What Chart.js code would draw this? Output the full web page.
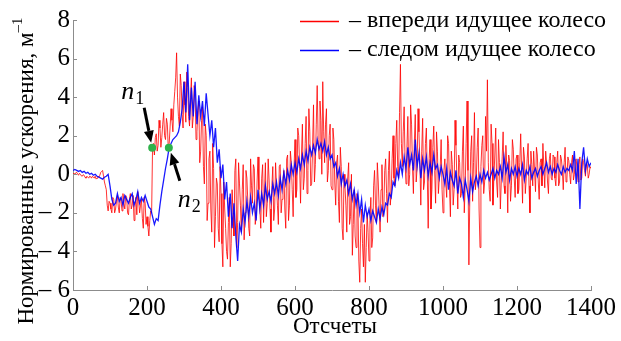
<!DOCTYPE html>
<html>
<head>
<meta charset="utf-8">
<script src="https://cdn.jsdelivr.net/npm/chart.js@4"></script>
<style>
html,body{margin:0;padding:0;background:#fff;overflow:hidden;}
#wrap{width:621px;height:341px;position:relative;}
#fontwarm{position:absolute;left:0;top:0;font-family:'Liberation Serif';font-size:20px;color:rgba(0,0,0,0);pointer-events:none;}
</style>
</head>
<body>
<div id="wrap"><canvas id="c" width="621" height="341"></canvas><div id="fontwarm">Нн 0123 <i>n</i></div></div>
<script>
// Sample spacing of the read-off values (Отсчеты)
const sampleStep = 5;

// Leading wheel (впереди идущее колесо), values at samples 0, 5, 10 ... 1400
const redValues = [
  0.05, 0.0, 0.1, -0.05, 0.0, -0.1, -0.05, -0.2, -0.15, -0.1,
  -0.2, -0.15, -0.1, -0.2, -0.15, 0.1, 0.2, -0.4, -0.8, -1.9,
  -1.5, -2.0, -1.3, -1.8, -1.1, -2.0, -1.4, -1.0, -1.8, -1.2,
  -2.1, -1.0, -1.6, -2.4, -1.2, -0.9, -2.0, -1.3, -2.8, -1.5,
  -2.2, -3.2, -1.9, 1.4, 1.0, 2.1, 1.5, 2.4, 1.9, 3.2,
  1.8, 2.6, 1.6, 3.4, 2.2, 4.3, 6.3, 3.0, 5.2, 3.1,
  4.8, 2.7, 4.5, 2.5, 5.0, 3.0, 4.2, 2.2, 3.8, 1.2,
  3.5, -0.5, 2.0, -1.5, 1.2, -3.0, 0.3, -2.2, -0.5, -3.5,
  -1.0, -4.8, -1.8, -4.0, -2.5, -4.8, -0.8, -3.2, 0.8, -2.5,
  -0.5, -3.0, 0.5, -2.0, -0.2, -2.8, 0.8, -1.5, 0.3, -2.2,
  0.9, -1.8, -0.2, -2.5, 0.6, -1.5, -0.3, -3.0, 0.4, -1.8,
  -0.6, -2.6, 0.5, -1.3, 0.2, -2.8, 1.0, -1.6, 0.6, -2.2,
  1.8, -0.8, 2.0, -1.5, 2.6, -0.2, 3.0, 0.2, 2.2, -0.5,
  3.6, 0.5, 4.6, 0.8, 2.8, 4.8, 0.6, 3.4, 0.2, 2.6,
  -0.8, 1.8, -1.6, 1.0, -2.5, 0.4, -3.4, -0.6, -3.0, 0.6,
  -2.2, -4.2, -0.8, -3.8, -1.5, -5.6, -1.8, -4.8, -5.6, -2.0,
  -4.5, -1.2, -3.3, 0.2, -2.5, -0.4, -3.0, 0.5, -1.8, 0.8,
  -2.5, 1.2, -1.0, 2.0, -0.6, 2.8, -0.2, 5.7, 0.4, 3.5,
  -0.5, 3.0, 0.0, 2.6, -1.0, 3.1, 0.3, 2.2, -1.6, 2.9,
  -0.4, 2.4, -2.8, 1.8, -0.8, 2.5, -1.5, 1.2, -0.2, 1.8,
  -2.0, 0.8, -1.2, 1.6, -2.2, 0.5, -0.8, 1.5, -1.8, 0.6,
  -1.0, 2.5, -0.6, 3.8, -4.7, 1.2, -1.4, 3.2, -0.2, 2.4,
  -3.8, 1.5, -1.0, 3.0, 4.9, -0.8, 2.6, -1.6, 1.0, -0.4,
  1.8, -1.8, 0.9, -0.6, 1.5, -2.0, 0.7, -0.6, 1.3, -1.2,
  1.0, -0.8, 2.1, -1.5, 0.9, -0.2, 1.6, -2.0, 0.5, 1.2,
  -0.9, 1.0, -1.3, 0.8, 1.6, -0.7, 0.6, -1.0, 1.1, -0.3,
  0.9, -0.6, 1.2, -0.4, 0.8, -0.8, 1.4, -0.2, 0.7, -0.5,
  1.0, 0.0, 0.8, -0.4, 0.9, -0.2, 0.6, -0.1, 0.5, 0.0,
  0.3
];

// Leading wheel, values in between, at samples 2.5, 7.5 ... 1397.5
const redMidValues = [
  0.0, 0.08, 0.02, 0.05, -0.08, -0.02, -0.15, -0.1, -0.2, -0.12,
  -0.1, -0.2, -0.25, -0.1, -0.05, 0.15, -0.1, -0.6, -1.6, -1.4,
  -1.8, -1.2, -2.0, -1.4, -1.7, -1.2, -1.9, -1.5, -1.1, -2.0,
  -1.3, -1.8, -1.1, -1.7, -2.1, -1.4, -1.6, -2.3, -1.2, -2.6,
  -2.7, -2.4, -2.0, 1.6, 1.9, 1.2, 2.8, 1.4, 2.6, 2.0,
  2.9, 1.3, 2.5, 2.8, 3.6, 5.0, 4.0, 2.5, 4.6, 2.4,
  3.6, 5.3, 3.0, 4.0, 2.4, 4.6, 1.8, 3.3, 0.6, 2.8,
  0.4, 2.6, -2.4, 0.8, -1.8, 1.6, -3.8, -0.2, -2.8, 0.4,
  -3.6, -0.4, -2.8, -4.4, -1.2, -3.6, -2.0, 0.2, -3.8, 0.6,
  -1.6, -0.8, -3.4, 0.2, -1.4, -3.2, -0.6, 0.5, -2.6, -0.4,
  -0.8, -2.8, 0.5, -1.0, -2.2, 0.8, -1.8, -0.6, -2.4, 0.6,
  -1.6, 0.4, -2.0, -0.2, -1.8, 0.8, -2.4, 1.2, -0.8, 0.4,
  -1.2, 2.4, 0.4, 1.0, -0.8, 1.6, -1.0, 3.4, -0.6, 1.4,
  -0.4, 2.6, 1.8, 3.8, 0.0, 2.2, 2.6, -0.4, 2.0, -0.6,
  2.4, -0.4, 0.6, -1.4, 1.4, -2.8, 0.0, -1.6, -0.2, -2.6,
  0.0, -2.6, -3.2, -1.0, -4.5, -2.8, -3.6, -2.6, -3.8, -3.0,
  -2.4, -3.8, -0.6, -1.6, 0.6, -1.8, -0.8, -2.2, 0.2, -1.0,
  0.2, -1.6, 0.8, -0.2, 1.6, 0.4, 3.2, 1.6, 2.2, 0.6,
  1.4, -0.6, 3.6, 0.4, 1.6, -0.4, 3.4, 0.6, 1.2, -0.8,
  1.6, 0.0, 0.8, -1.8, 1.4, 0.2, 2.2, -1.0, 0.4, -0.8,
  0.2, -0.4, 2.0, -0.6, 1.2, -1.6, 2.8, -0.2, 1.0, -1.2,
  1.2, -2.0, 1.6, 0.2, -1.2, 2.0, 0.6, -0.8, 1.4, -1.8,
  0.4, 2.0, -0.4, 1.2, 0.6, -1.4, 1.6, -0.2, 2.4, -1.2,
  0.6, -0.4, 2.2, -1.0, 0.4, 1.0, -1.4, 1.8, -0.2, 0.8,
  -1.0, 0.6, 0.2, 1.4, -1.0, 0.8, -0.6, 1.2, -0.6, 0.2,
  1.4, -0.4, 0.6, -0.6, 0.4, 1.2, -0.4, 0.8, -0.2, 1.0,
  -0.2, 0.6, -0.6, 1.0, 0.2, 0.6, -0.4, 0.9, 0.0, 0.6,
  -0.3, 0.7, 0.2, 0.5, -0.3, 0.8, 0.2, 0.6, -0.2, 0.4
];

// Trailing wheel (следом идущее колесо), values at samples 0, 5, 10 ... 1400
const blueValues = [
  0.2, 0.25, 0.2, 0.15, 0.2, 0.1, 0.15, 0.05, 0.1, 0.0,
  0.05, -0.05, 0.0, -0.1, -0.15, -0.2, -0.25, -0.15, -0.1, 0.0,
  -0.6, -1.3, -1.6, -1.5, -1.0, -1.4, -1.2, -1.6, -1.1, -1.3,
  -1.5, -1.2, -1.0, -1.6, -1.3, -0.9, -1.5, -1.2, -1.4, -1.1,
  -1.4, -1.7, -1.8, -2.2, -2.6, -2.3, -2.4, -1.6, -0.9, -0.3,
  0.3, 0.8, 1.4, 1.6, 1.8, 1.9, 2.0, 2.2, 2.7, 3.4,
  4.8, 3.2, 5.7, 2.8, 4.5, 3.0, 4.8, 2.6, 4.1, 3.0,
  3.8, 2.5, 4.2, 3.1, 2.0, 2.8, 1.4, 2.4, 0.6, 1.3,
  -0.2, 0.5, -1.3, -0.4, -2.2, -1.0, -2.8, -1.5, -3.2, -4.5,
  -2.6, -3.0, -1.8, -2.5, -1.4, -2.2, -1.2, -2.0, -1.5, -2.4,
  -0.8, -1.8, -1.0, -1.6, -0.6, -1.3, -0.9, -1.4, -0.5, -1.0,
  -0.4, -1.1, -0.2, -0.8, 0.1, -0.5, 0.2, -0.3, 0.5, 0.0,
  0.6, 0.1, 0.8, 0.3, 1.0, 0.5, 1.2, 0.7, 1.4, 1.0,
  1.5, 1.1, 1.8, 1.3, 1.6, 1.2, 1.7, 1.0, 1.4, 0.8,
  1.0, 0.4, 0.6, -0.1, 0.3, -0.5, 0.0, -0.6, -0.3, -1.0,
  -0.5, -1.3, -0.8, -1.6, -1.0, -2.0, -1.3, -2.5, -1.6, -2.2,
  -1.8, -2.4, -1.9, -2.2, -2.5, -1.8, -2.3, -1.7, -2.1, -1.5,
  -1.6, -1.0, -1.2, -0.4, -0.6, 0.2, -0.2, 0.6, 0.0, 0.9,
  0.3, 1.4, 0.5, 1.0, 0.2, 1.8, 0.4, 1.1, -0.2, 0.8,
  0.2, 0.9, -0.1, 0.6, 0.1, 1.0, 0.3, 0.5, -0.2, 0.4,
  0.0, -0.5, 0.3, -0.8, 0.1, -0.3, -0.6, 0.2, -1.0, -0.2,
  -0.5, -1.2, -0.3, -0.8, -1.4, -0.2, -0.9, -0.4, -0.1, -0.6,
  0.0, -0.4, 0.2, -0.2, 0.1, -0.3, 0.0, 0.3, -0.2, 0.2,
  0.0, 0.4, -0.2, 0.9, 0.1, 0.5, -0.3, 0.3, 0.0, 0.4,
  -0.1, 0.3, 0.0, 0.5, -0.3, 0.2, 0.0, 0.4, -0.2, 0.1,
  0.3, -0.1, 0.2, 0.4, 0.0, 0.3, 0.6, 0.1, 0.4, 0.0,
  0.3, 0.1, 0.5, 0.2, 0.0, 0.4, 0.1, 0.3, 0.2, 0.5,
  0.2, 1.2, -0.5, 0.8, -1.8, 0.6, 1.4, 0.2, 0.8, 0.4,
  0.6
];

// Marked points n1, n2
const markerLabels = ['1', '2'];
const markerX = [214, 259];
const markerY = [1.38, 1.38];

// Tick labels
const xTickValues = [0, 200, 400, 600, 800, 1000, 1200, 1400];
const xTickLabels = ['0', '200', '400', '600', '800', '1000', '1200', '1400'];
const yTickValues = [-6, -4, -2, 0, 2, 4, 6, 8];
const yTickLabels = ['– 6', '– 4', '– 2', '0', '2', '4', '6', '8'];

const seriesLabels = ['– впереди идущее колесо', '– следом идущее колесо'];
const seriesColors = ['rgba(255,0,0,0.8)', 'rgba(0,0,255,0.9)'];
const legendColors = ['#ff0000', '#0000ff'];
const xTitle = 'Отсчеты';
const yTitle = 'Нормированные ускорения, м';
const yTitleSup = '–1';

const SERIF = '"Liberation Serif", "Times New Roman", serif';

function toPoints(vals, mids) {
  const pts = [];
  vals.forEach((v, i) => {
    pts.push({ x: i * sampleStep, y: v });
    if (mids && i < mids.length) pts.push({ x: i * sampleStep + sampleStep / 2, y: mids[i] });
  });
  return pts;
}

const overlay = {
  id: 'overlay',
  afterDatasetsDraw(chart) {
    const ctx = chart.ctx;
    const xs = chart.scales.x, ys = chart.scales.y;
    const ca = chart.chartArea;
    ctx.save();
    // inward tick marks
    ctx.strokeStyle = '#8c8c8c';
    ctx.lineWidth = 1;
    ctx.beginPath();
    xTickValues.forEach(v => {
      if (v === 0) return;
      const px = Math.round(xs.getPixelForValue(v)) + 0.5;
      ctx.moveTo(px, ca.bottom);
      ctx.lineTo(px, ca.bottom - 4);
    });
    yTickValues.forEach(v => {
      if (v === -6) return;
      const py = Math.round(ys.getPixelForValue(v)) + 0.5;
      ctx.moveTo(ca.left, py);
      ctx.lineTo(ca.left + 4, py);
    });
    ctx.stroke();

    // green markers
    const mp = markerX.map((x, i) => [xs.getPixelForValue(x), ys.getPixelForValue(markerY[i])]);
    ctx.fillStyle = '#2fb24a';
    mp.forEach(p => { ctx.beginPath(); ctx.arc(p[0], p[1], 4, 0, Math.PI * 2); ctx.fill(); });

    // arrows
    function arrow(x1, y1, x2, y2) {
      const a = Math.atan2(y2 - y1, x2 - x1);
      const hl = 12, hw = 5;
      const bx = x2 - hl * Math.cos(a), by = y2 - hl * Math.sin(a);
      ctx.strokeStyle = '#000';
      ctx.lineWidth = 3;
      ctx.beginPath(); ctx.moveTo(x1, y1); ctx.lineTo(bx, by); ctx.stroke();
      ctx.fillStyle = '#000';
      ctx.beginPath();
      ctx.moveTo(x2, y2);
      ctx.lineTo(bx + hw * Math.sin(a), by - hw * Math.cos(a));
      ctx.lineTo(bx - hw * Math.sin(a), by + hw * Math.cos(a));
      ctx.closePath(); ctx.fill();
    }
    arrow(mp[0][0] - 8, mp[0][1] - 40, mp[0][0] - 1, mp[0][1] - 5);
    arrow(mp[1][0] + 11, mp[1][1] + 33, mp[1][0] + 2, mp[1][1] + 5);

    // n labels
    function nLabel(x, y, sub) {
      ctx.fillStyle = '#000';
      ctx.textBaseline = 'alphabetic';
      ctx.textAlign = 'left';
      ctx.font = 'italic 26px ' + SERIF;
      ctx.fillText('n', x, y);
      const w = ctx.measureText('n').width;
      ctx.font = '18px ' + SERIF;
      ctx.fillText(sub, x + w + 1, y + 5);
    }
    nLabel(mp[0][0] - 31, mp[0][1] - 49, markerLabels[0]);
    nLabel(mp[1][0] + 9, mp[1][1] + 59, markerLabels[1]);

    // legend
    ctx.textBaseline = 'middle';
    ctx.textAlign = 'left';
    ctx.font = '24px ' + SERIF;
    seriesLabels.forEach((lab, i) => {
      const yy = 21 + i * 29;
      ctx.strokeStyle = legendColors[i];
      ctx.lineWidth = 1.3;
      ctx.beginPath(); ctx.moveTo(300, yy + 0.5); ctx.lineTo(339, yy + 0.5); ctx.stroke();
      ctx.fillStyle = '#000';
      ctx.fillText(lab, 349, yy);
    });

    // axis titles
    ctx.font = '23px ' + SERIF;
    ctx.textAlign = 'center';
    ctx.textBaseline = 'middle';
    ctx.fillText(xTitle, (ca.left + ca.right) / 2 + 3, 327);

    ctx.translate(27, 171);
    ctx.rotate(-Math.PI / 2);
    ctx.textAlign = 'left';
    ctx.font = '23px ' + SERIF;
    const w1 = ctx.measureText(yTitle).width;
    ctx.font = '15px ' + SERIF;
    const w2 = ctx.measureText(yTitleSup).width;
    const start = -(w1 + w2) / 2;
    ctx.font = '23px ' + SERIF;
    ctx.fillText(yTitle, start, 0);
    ctx.font = '15px ' + SERIF;
    ctx.fillText(yTitleSup, start + w1, -9);
    ctx.restore();
  }
};

function build() {
  new Chart(document.getElementById('c'), {
    type: 'line',
    data: {
      datasets: [
        {
          label: seriesLabels[0],
          data: toPoints(redValues, redMidValues),
          borderColor: seriesColors[0],
          borderWidth: 1,
          pointRadius: 0,
          tension: 0,
          order: 1
        },
        {
          label: seriesLabels[1],
          data: toPoints(blueValues, null),
          borderColor: seriesColors[1],
          borderWidth: 1.3,
          pointRadius: 0,
          tension: 0,
          order: 0
        }
      ]
    },
    options: {
      responsive: false,
      animation: false,
      events: [],
      layout: { padding: { top: 20, right: 30, left: 0, bottom: 0 } },
      plugins: { legend: { display: false }, tooltip: { enabled: false } },
      scales: {
        x: {
          type: 'linear',
          min: 0, max: 1400,
          afterBuildTicks(s) { s.ticks = xTickValues.map(v => ({ value: v })); },
          afterFit(s) { s.height = 51; },
          grid: { display: true, drawOnChartArea: false, drawTicks: false },
          border: { display: true, color: '#8c8c8c', width: 1 },
          ticks: {
            padding: 3,
            color: '#000',
            font: { family: SERIF, size: 25 },
            maxRotation: 0,
            autoSkip: false,
            callback(v) { const i = xTickValues.indexOf(v); return i >= 0 ? xTickLabels[i] : ''; }
          }
        },
        y: {
          min: -6, max: 8,
          afterBuildTicks(s) { s.ticks = yTickValues.map(v => ({ value: v })); },
          afterFit(s) { s.width = 73; },
          grid: { display: true, drawOnChartArea: false, drawTicks: false },
          border: { display: true, color: '#8c8c8c', width: 1 },
          ticks: {
            padding: 3,
            color: '#000',
            font: { family: SERIF, size: 25 },
            autoSkip: false,
            callback(v) { const i = yTickValues.indexOf(v); return i >= 0 ? yTickLabels[i] : ''; }
          }
        }
      }
    },
    plugins: [overlay]
  });
}

const fontLoads = document.fonts && document.fonts.load
  ? Promise.all([
      document.fonts.load('22px "Liberation Serif"'),
      document.fonts.load('italic 22px "Liberation Serif"')
    ]).catch(() => null)
  : Promise.resolve();
fontLoads.then(build, build);
</script>
</body>
</html>
